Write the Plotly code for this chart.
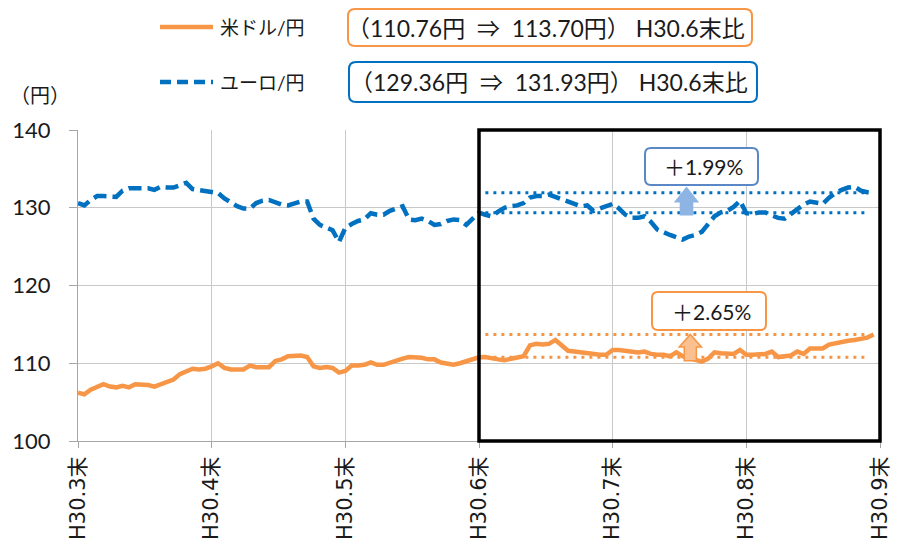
import plotly.graph_objects as go

# ---------------- data ----------------
tick_labels = ["H30.3末", "H30.4末", "H30.5末", "H30.6末", "H30.7末", "H30.8末", "H30.9末"]
month_end_index = [0, 21, 42, 63, 84, 105, 126]

usd_jpy = [
    106.2, 106.0, 106.6, 107.0, 107.3, 107.0, 106.9, 107.1, 106.9, 107.3, 107.3, 107.2, 107.0, 107.3, 107.5, 107.9, 108.6, 108.9, 109.3, 109.2, 109.3, 109.6,
    110.0, 109.4, 109.2, 109.2, 109.2, 109.7, 109.5, 109.5, 109.5, 110.3, 110.5, 110.9, 110.9, 111.0, 110.8, 109.6, 109.4, 109.5, 109.4, 108.8, 109.0,
    109.7, 109.7, 109.8, 110.1, 109.8, 109.8, 110.1, 110.4, 110.6, 110.8, 110.8, 110.7, 110.5, 110.5, 110.1, 109.9, 109.8, 110.0, 110.3, 110.6, 110.76,
    110.8, 110.6, 110.5, 110.4, 110.6, 110.8, 110.9, 112.3, 112.5, 112.4, 112.5, 113.0, 112.3, 111.6, 111.5, 111.4, 111.2, 111.2, 111.1, 111.1, 111.7,
    111.7, 111.6, 111.4, 111.4, 111.5, 111.2, 111.1, 111.1, 110.9, 111.4, 110.9, 110.7, 110.4, 110.2, 110.6, 111.4, 111.3, 111.2, 111.2, 111.7, 111.1,
    111.1, 111.1, 111.2, 111.5, 110.8, 110.9, 111.0, 111.5, 111.2, 111.9, 111.9, 111.9, 112.4, 112.6, 112.8, 112.9, 113.0, 113.1, 113.3, 113.70,
]
eur_jpy = [
    130.6, 130.3, 131.0, 131.5, 131.5, 131.4, 131.4, 132.2, 132.5, 132.5, 132.5, 132.5, 132.3, 132.7, 132.6, 132.6, 132.9, 133.2, 132.4, 132.3, 132.2, 132.1,
    131.9, 131.2, 130.7, 130.2, 129.9, 129.9, 130.6, 130.9, 131.0, 130.7, 130.4, 130.3, 130.6, 130.8, 130.8, 128.6, 127.8, 127.4, 127.1, 125.6, 127.4,
    127.9, 128.3, 128.5, 129.3, 129.1, 129.1, 129.6, 129.9, 130.2, 128.5, 128.4, 128.6, 128.3, 127.8, 127.9, 128.3, 128.5, 128.4, 127.8, 128.6, 129.36,
    129.1, 128.9, 129.5, 130.0, 130.2, 130.3, 130.6, 131.3, 131.5, 131.5, 131.7, 131.4, 131.1, 130.7, 130.4, 130.2, 130.3, 129.6, 129.9, 130.2, 130.5,
    129.9, 129.1, 128.7, 128.7, 128.9, 128.2, 127.2, 126.8, 126.5, 126.2, 125.9, 126.3, 126.5, 126.9, 127.9, 128.9, 129.4, 129.6, 130.1, 130.9, 129.3,
    129.2, 129.4, 129.4, 129.0, 128.7, 128.6, 129.2, 129.8, 130.4, 130.8, 130.6, 130.5, 131.3, 131.9, 132.3, 132.6, 132.7, 132.2, 132.0, 131.93,
]
series_names = ["米ドル/円", "ユーロ/円"]
base_index = 63  # H30.6末

# ---------------- styling ----------------
ORANGE = "#f79646"
BLUE = "#0070c0"
PCT_BLUE = "#5a87c5"
TXT = "#1a1a1a"
FONT = "Lato, 'Noto Sans CJK JP', sans-serif"
XFONT = "'DejaVu Sans', 'Noto Sans CJK JP', sans-serif"

PAGE_OFF = 8                      # browser body margin
W, H = 906 - PAGE_OFF, 549 - PAGE_OFF
L, R, T, B = 78, 880, 130, 441    # plot area in screen pixels


def px2paper(x, y):
    return (x - L) / (R - L), (B - y) / (B - T)


def rounded_rect(x0, y0, x1, y1, r=7):
    def p(x, y):
        a, b = px2paper(x, y)
        return f"{a:.5f},{b:.5f}"
    return (f"M {p(x0 + r, y0)} L {p(x1 - r, y0)} Q {p(x1, y0)} {p(x1, y0 + r)} "
            f"L {p(x1, y1 - r)} Q {p(x1, y1)} {p(x1 - r, y1)} L {p(x0 + r, y1)} "
            f"Q {p(x0, y1)} {p(x0, y1 - r)} L {p(x0, y0 + r)} Q {p(x0, y0)} {p(x0 + r, y0)} Z")


xs = list(range(len(usd_jpy)))

fig = go.Figure()
fig.add_trace(go.Scatter(x=xs, y=usd_jpy, mode="lines", name=series_names[0],
                         line=dict(color=ORANGE, width=4.5), showlegend=False))
fig.add_trace(go.Scatter(x=xs, y=eur_jpy, mode="lines", name=series_names[1],
                         line=dict(color=BLUE, width=4.5, dash="13px,6px"), showlegend=False))

# dotted reference lines (start / end level)
ref_x = [base_index + 1, len(usd_jpy) - 2]
for series, col in ((usd_jpy, ORANGE), (eur_jpy, BLUE)):
    for lvl in (series[base_index], series[-1]):
        fig.add_trace(go.Scatter(x=ref_x, y=[lvl, lvl], mode="lines", showlegend=False,
                                 hoverinfo="skip", line=dict(color=col, width=3, dash="3px,5px")))

shapes = []
annotations = []

# black frame from H30.6末 to H30.9末
shapes.append(dict(type="rect", xref="paper", yref="paper",
                   x0=month_end_index[3] / month_end_index[-1], x1=1.0, y0=0, y1=1,
                   line=dict(color="black", width=3.5), layer="above"))


def block_arrow(cx, y_bottom, y_tip, head_h, fill, outline):
    hs, hh = 0.95, 1.75
    yh = y_tip - head_h
    path = (f"M {cx - hs},{y_bottom} L {cx + hs},{y_bottom} L {cx + hs},{yh} L {cx + hh},{yh} "
            f"L {cx},{y_tip} L {cx - hh},{yh} L {cx - hs},{yh} Z")
    return dict(type="path", xref="x", yref="y", path=path, fillcolor=fill,
                line=dict(color=outline, width=1.5), layer="above")


shapes.append(block_arrow(96.2, usd_jpy[base_index] - 0.45, usd_jpy[-1], 1.6, "#fac090", ORANGE))
shapes.append(block_arrow(95.6, eur_jpy[base_index] - 0.25, eur_jpy[-1] + 0.65, 1.8, "#8eb4e3", "#8eb4e3"))

# percent boxes
usd_pct = (usd_jpy[-1] / usd_jpy[base_index] - 1) * 100
eur_pct = (eur_jpy[-1] / eur_jpy[base_index] - 1) * 100
for (x0, y0, x1, y1), col, pct in (((645, 148, 758, 185), PCT_BLUE, eur_pct),
                                   ((652, 292, 766, 330), ORANGE, usd_pct)):
    shapes.append(dict(type="path", xref="paper", yref="paper", path=rounded_rect(x0, y0, x1, y1, 6),
                       fillcolor="white", line=dict(color=col, width=2), layer="above"))
    cx, cy = px2paper((x0 + x1) / 2 + 2, (y0 + y1) / 2)
    annotations.append(dict(xref="paper", yref="paper", x=cx, y=cy, xanchor="center", yanchor="middle",
                            text=f"＋{pct:.2f}%", showarrow=False,
                            font=dict(size=21, color=TXT, family=FONT)))

# legend (manual) with boxed comparisons
legend_rows = [
    (27, ORANGE, None, series_names[0], usd_jpy, (348, 9, 752, 46)),
    (82, BLUE, "11px,6px", series_names[1], eur_jpy, (349, 62, 757, 102)),
]
for y, col, dash, name, series, box in legend_rows:
    a0, b0 = px2paper(160, y)
    a1, _ = px2paper(213, y)
    shapes.append(dict(type="line", xref="paper", yref="paper", x0=a0, x1=a1, y0=b0, y1=b0,
                       line=dict(color=col, width=4.5, dash=dash)))
    tx, ty = px2paper(218, y)
    annotations.append(dict(xref="paper", yref="paper", x=tx, y=ty, xanchor="left", yanchor="middle",
                            text=name, showarrow=False, font=dict(size=19, color=TXT, family=FONT)))
    shapes.append(dict(type="path", xref="paper", yref="paper", path=rounded_rect(*box, 7),
                       fillcolor="rgba(0,0,0,0)", line=dict(color=col, width=2)))
    bx, by = px2paper((box[0] + box[2]) / 2 - 4, (box[1] + box[3]) / 2)
    annotations.append(dict(xref="paper", yref="paper", x=bx, y=by, xanchor="center", yanchor="middle",
                            text=f"（{series[base_index]:.2f}円  ⇒  {series[-1]:.2f}円） H30.6末比",
                            showarrow=False, font=dict(size=23, color=TXT, family=FONT)))

# y-axis unit
ux, uy = px2paper(40, 95)
annotations.append(dict(xref="paper", yref="paper", x=ux, y=uy, text="（円）", showarrow=False,
                        xanchor="center", yanchor="middle", font=dict(size=20, color=TXT, family=FONT)))

fig.update_layout(
    width=W, height=H,
    margin=dict(l=L - PAGE_OFF, r=W - (R - PAGE_OFF), t=T - PAGE_OFF, b=H - (B - PAGE_OFF), pad=0, autoexpand=False),
    paper_bgcolor="white", plot_bgcolor="white",
    showlegend=False,
    font=dict(family=FONT, color=TXT, size=20),
    shapes=shapes, annotations=annotations,
    xaxis=dict(range=[0, month_end_index[-1]], tickmode="array", tickvals=month_end_index,
               ticktext=tick_labels, tickangle=-90, showgrid=True, gridcolor="#c8c8c8", gridwidth=1,
               showline=True, linecolor="#a6a6a6", linewidth=1, ticks="outside", ticklen=6,
               tickcolor="#a6a6a6", zeroline=False, automargin=False,
               tickfont=dict(size=21, family=XFONT, color=TXT)),
    yaxis=dict(range=[100, 140], dtick=10, showgrid=True, gridcolor="#c8c8c8", gridwidth=1,
               showline=True, linecolor="#a6a6a6", linewidth=1, ticks="outside", ticklen=8,
               tickcolor="#a6a6a6", zeroline=False, ticklabelstandoff=14, automargin=False,
               tickfont=dict(size=22, family=FONT, color=TXT)),
)

fig.write_html("out.html")
